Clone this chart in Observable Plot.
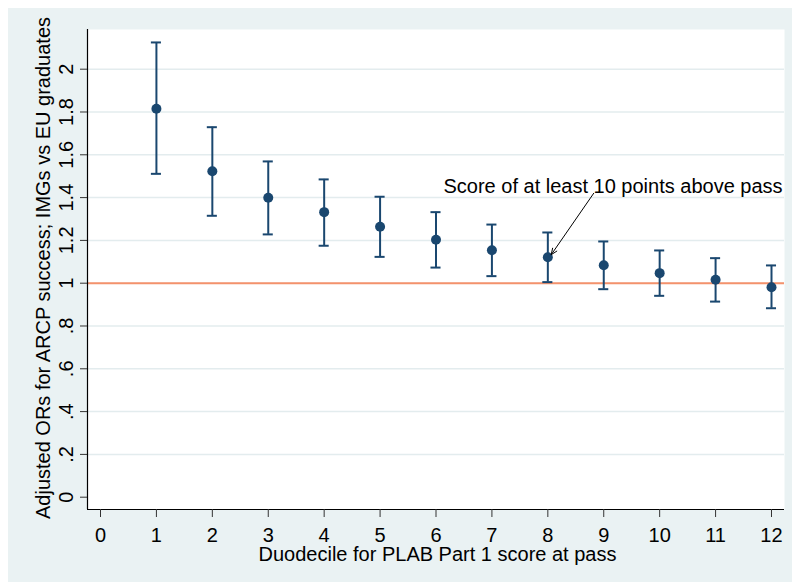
<!DOCTYPE html>
<html>
<head>
<meta charset="utf-8">
<script src="https://cdn.jsdelivr.net/npm/d3@7"></script>
<script src="https://cdn.jsdelivr.net/npm/@observablehq/plot@0.6"></script>
<style>
  body { margin: 0; background: #ffffff; }
  #chart { padding: 8px 0 0 8px; }
  #chart svg { display: block; }
</style>
</head>
<body>
<div id="chart"></div>
<script>
// Adjusted odds ratios (with 95% CI) by duodecile of PLAB Part 1 score
const duodecile = [1, 2, 3, 4, 5, 6, 7, 8, 9, 10, 11, 12];
const oddsRatio = [1.815, 1.523, 1.399, 1.332, 1.264, 1.203, 1.154, 1.121, 1.084, 1.047, 1.016, 0.981];
const ciLower   = [1.511, 1.315, 1.228, 1.175, 1.123, 1.073, 1.033, 1.005, 0.972, 0.941, 0.914, 0.883];
const ciUpper   = [2.125, 1.729, 1.569, 1.485, 1.404, 1.332, 1.274, 1.237, 1.195, 1.153, 1.117, 1.083];

const xTicks = [0, 1, 2, 3, 4, 5, 6, 7, 8, 9, 10, 11, 12];
const yTicks = [0, 0.2, 0.4, 0.6, 0.8, 1, 1.2, 1.4, 1.6, 1.8, 2];
const yTickLabels = ["0", ".2", ".4", ".6", ".8", "1", "1.2", "1.4", "1.6", "1.8", "2"];

const referenceOR = 1;
const xTitle = "Duodecile for PLAB Part 1 score at pass";
const yTitle = "Adjusted ORs for ARCP success; IMGs vs EU graduates";

const noteText = "Score of at least 10 points above pass";
const noteAt = [6.134, 1.45];
const arrowFrom = [8.82, 1.42];
const arrowTo = [8.06, 1.133];

const rows = duodecile.map((d, i) => ({d, or: oddsRatio[i], lo: ciLower[i], hi: ciUpper[i]}));

const xDomain = [-0.2325, 12.2325];
const yDomain = [-0.0575, 2.1855];
const navy = "#1a476f";
const capHalf = 0.09;

const chart = Plot.plot({
  width: 784,
  height: 574,
  marginLeft: 79,
  marginTop: 21,
  marginRight: 8,
  marginBottom: 73,
  x: {domain: xDomain, axis: null},
  y: {domain: yDomain, axis: null},
  style: {
    background: "#eaf2f3",
    fontFamily: "'Liberation Sans', Arial, sans-serif",
    fontSize: "20px",
    color: "#000"
  },
  marks: [
    Plot.frame({fill: "white", stroke: "none"}),
    // grid
    Plot.ruleY(yTicks.filter(v => v > 0), {stroke: "#e3ecee", strokeWidth: 1.5}),
    // reference line at OR = 1
    Plot.ruleY([referenceOR], {stroke: "#f4926c", strokeWidth: 2}),
    // confidence intervals with caps
    Plot.ruleX(rows, {x: "d", y1: "lo", y2: "hi", stroke: navy, strokeWidth: 2}),
    Plot.ruleY(rows, {y: "lo", x1: r => r.d - capHalf, x2: r => r.d + capHalf, stroke: navy, strokeWidth: 2}),
    Plot.ruleY(rows, {y: "hi", x1: r => r.d - capHalf, x2: r => r.d + capHalf, stroke: navy, strokeWidth: 2}),
    Plot.dot(rows, {x: "d", y: "or", r: 5, fill: navy, stroke: "none"}),
    // axis lines
    Plot.ruleX([xDomain[0]], {stroke: "#000", strokeWidth: 1.2}),
    Plot.ruleY([yDomain[0]], {stroke: "#000", strokeWidth: 1.2}),
    // x axis
    Plot.axisX({ticks: xTicks, tickSize: 8, tickPadding: 10, tickFormat: d3.format("d"), label: null, stroke: "#333", fill: "#000"}),
    // y axis ticks and rotated labels
    Plot.axisY({ticks: yTicks, tickSize: 7, tickFormat: () => "", label: null, stroke: "#333"}),
    Plot.text(yTicks, {x: xDomain[0], y: d => d, text: (d, i) => yTickLabels[i], rotate: -90, dx: -21.4, textAnchor: "middle", lineAnchor: "middle", fill: "#000"}),
    // axis titles
    Plot.text([yTitle], {frameAnchor: "left", text: d => d, rotate: -90, dx: -44, dy: -1.5, textAnchor: "middle", lineAnchor: "middle", fill: "#000"}),
    Plot.text([xTitle], {frameAnchor: "bottom", text: d => d, dx: 1.5, dy: 44.6, textAnchor: "middle", lineAnchor: "middle", fill: "#000"}),
    // annotation
    Plot.arrow([0], {x1: () => arrowFrom[0], y1: () => arrowFrom[1], x2: () => arrowTo[0], y2: () => arrowTo[1], stroke: "#000", strokeWidth: 1, headLength: 10, headAngle: 45}),
    Plot.text([noteText], {x: () => noteAt[0], y: () => noteAt[1], text: d => d, textAnchor: "start", lineAnchor: "middle", fill: "#000"})
  ]
});

document.getElementById("chart").append(chart);
</script>
</body>
</html>
